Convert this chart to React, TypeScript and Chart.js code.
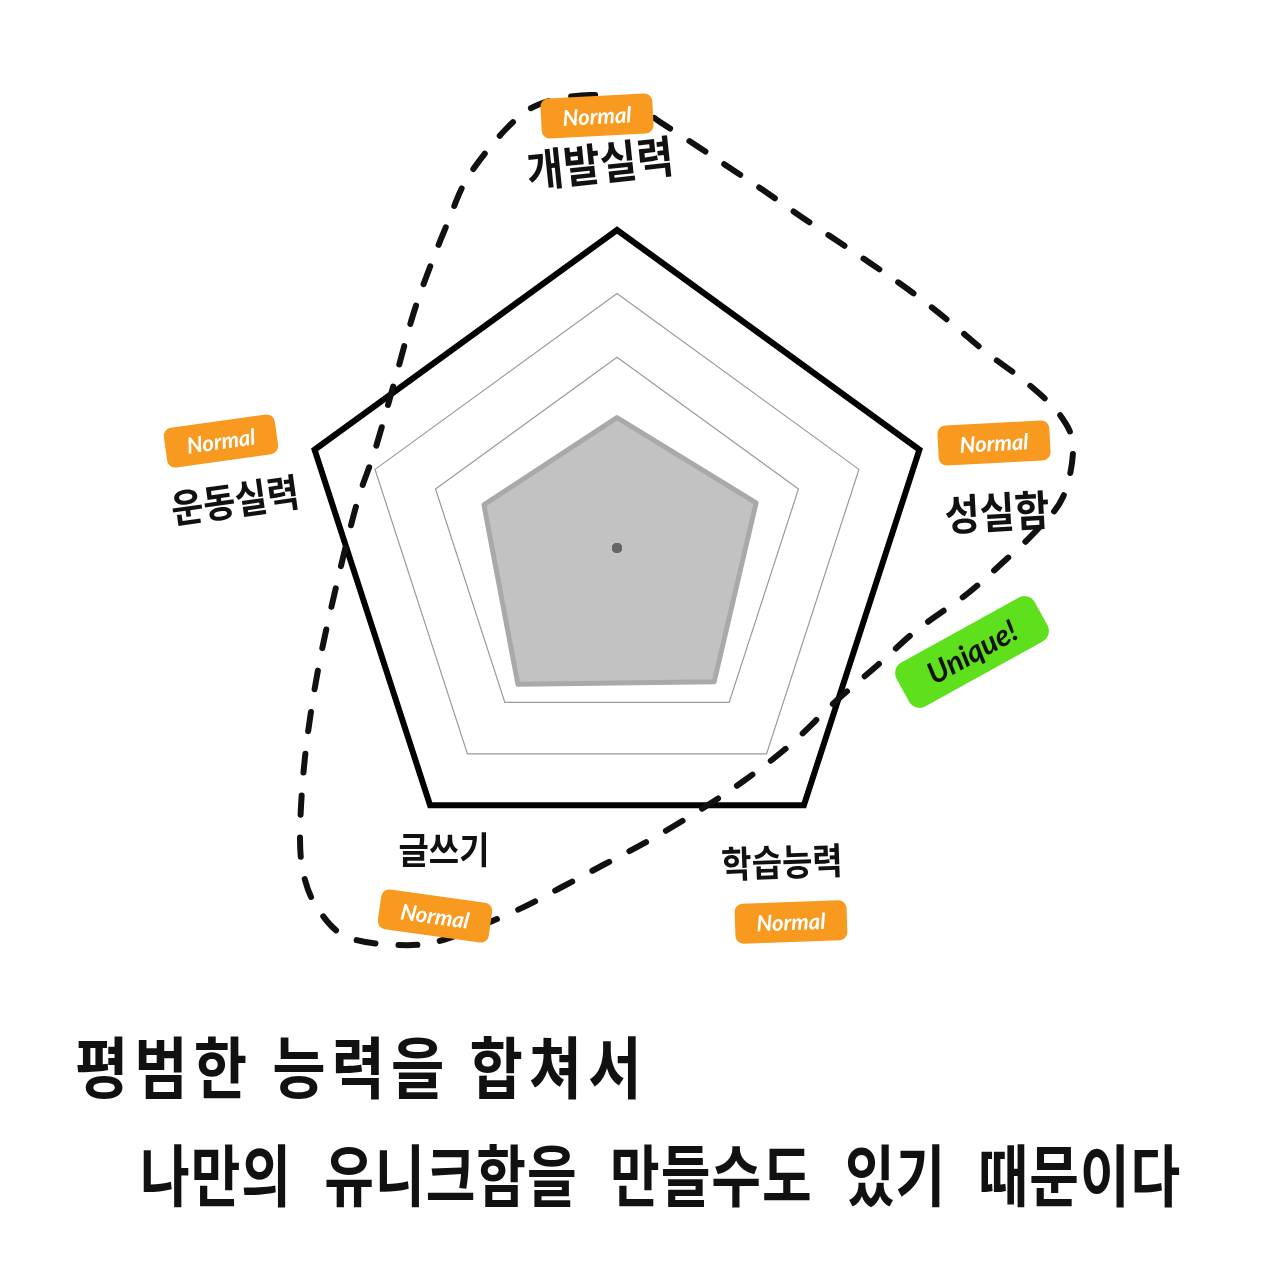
import { useEffect, useRef } from "react";
import { Chart, registerables } from "chart.js";

Chart.register(...registerables);

// ---- data ----
const categories = ["개발실력", "성실함", "학습능력", "글쓰기", "운동실력"];
const scores = [2.05, 2.3, 2.6, 2.65, 2.2];
const centerValues = [0, 0, 0, 0, 0];
const scaleMin = 0;
const scaleMax = 5;
const scaleStep = 1;
const badgeTexts = ["Normal", "Normal", "Normal", "Normal", "Normal"];
const uniqueText = "Unique!";
const captionLines = ["평범한 능력을 합쳐서", "나만의 유니크함을 만들수도 있기 때문이다"];

// ---- design frame (decoration layout, mapped onto the radial scale) ----
const REF = { cx: 617, cy: 548, r: 318 };
const LABEL_LAYOUT = [
  { x: 600, y: 163, size: 40, rot: -6 },
  { x: 997, y: 512, size: 38, rot: -3 },
  { x: 782, y: 862, size: 33, rot: -2 },
  { x: 444, y: 850, size: 33, rot: 0 },
  { x: 235, y: 500, size: 35, rot: -8 },
];
const BADGE_LAYOUT = [
  { x: 597, y: 116, w: 112, h: 40, rot: -3 },
  { x: 994, y: 443, w: 112, h: 40, rot: -3 },
  { x: 791, y: 922, w: 112, h: 40, rot: -2 },
  { x: 435, y: 916, w: 112, h: 40, rot: 8 },
  { x: 221, y: 441, w: 112, h: 40, rot: -8 },
];
const UNIQUE_LAYOUT = { x: 972, y: 652, w: 158, h: 50, rot: -29 };
const LOOP: [number, number][] = [
  [590, 95], [540, 104], [507, 128], [468, 177], [448, 222], [430, 267], [413, 315],
  [395, 380], [375, 450], [357, 503], [337, 583], [318, 670], [305, 757], [300, 837],
  [305, 880], [320, 912], [347, 937], [397, 945], [443, 940], [513, 912], [560, 888],
  [605, 864], [650, 840], [700, 810], [745, 780], [790, 745], [835, 702], [880, 663],
  [917, 630], [967, 594], [1000, 565], [1035, 532], [1063, 497], [1073, 447], [1060, 415],
  [1027, 383], [987, 353], [950, 322], [913, 293], [870, 263], [803, 218], [763, 190],
  [730, 168], [700, 148], [660, 122], [630, 102],
];

const KR = "'Noto Sans CJK KR', 'Noto Sans', sans-serif";

function mapPt(scale: any, x: number, y: number): [number, number] {
  const k = scale.drawingArea / REF.r;
  return [scale.xCenter + (x - REF.cx) * k, scale.yCenter + (y - REF.cy) * k];
}

const decorPlugin = {
  id: "decor",
  afterDraw(chart: any) {
    const ctx: CanvasRenderingContext2D = chart.ctx;
    const scale = chart.scales.r;

    // dashed loop
    const pts = LOOP.map(([x, y]) => mapPt(scale, x, y));
    ctx.save();
    ctx.strokeStyle = "#111";
    ctx.lineWidth = 6;
    ctx.lineCap = "round";
    ctx.setLineDash([19, 23]);
    ctx.beginPath();
    const n = pts.length;
    ctx.moveTo(pts[0][0], pts[0][1]);
    for (let i = 0; i < n; i++) {
      const p0 = pts[(i - 1 + n) % n];
      const p1 = pts[i];
      const p2 = pts[(i + 1) % n];
      const p3 = pts[(i + 2) % n];
      ctx.bezierCurveTo(
        p1[0] + (p2[0] - p0[0]) / 6,
        p1[1] + (p2[1] - p0[1]) / 6,
        p2[0] - (p3[0] - p1[0]) / 6,
        p2[1] - (p3[1] - p1[1]) / 6,
        p2[0],
        p2[1]
      );
    }
    ctx.closePath();
    ctx.stroke();
    ctx.restore();

    // category labels
    categories.forEach((label, i) => {
      const L = LABEL_LAYOUT[i];
      const [x, y] = mapPt(scale, L.x, L.y);
      ctx.save();
      ctx.translate(x, y);
      ctx.rotate((L.rot * Math.PI) / 180);
      ctx.scale(1, 1.12);
      ctx.fillStyle = "#111";
      ctx.font = `bold ${L.size}px ${KR}`;
      ctx.textAlign = "center";
      ctx.textBaseline = "middle";
      ctx.fillText(label, 0, 0);
      ctx.restore();
    });

    // Normal badges
    badgeTexts.forEach((t, i) => {
      const B = BADGE_LAYOUT[i];
      const [x, y] = mapPt(scale, B.x, B.y);
      ctx.save();
      ctx.translate(x, y);
      ctx.rotate((B.rot * Math.PI) / 180);
      ctx.fillStyle = "#f79a1f";
      ctx.beginPath();
      (ctx as any).roundRect(-B.w / 2, -B.h / 2, B.w, B.h, 8);
      ctx.fill();
      ctx.fillStyle = "#ffffff";
      ctx.font = "bold italic 22px Lato, 'Noto Sans', sans-serif";
      ctx.textAlign = "center";
      ctx.textBaseline = "middle";
      ctx.fillText(t, 0, 1);
      ctx.restore();
    });

    // Unique badge
    {
      const U = UNIQUE_LAYOUT;
      const [x, y] = mapPt(scale, U.x, U.y);
      ctx.save();
      ctx.translate(x, y);
      ctx.rotate((U.rot * Math.PI) / 180);
      ctx.fillStyle = "#5fe01c";
      ctx.beginPath();
      (ctx as any).roundRect(-U.w / 2, -U.h / 2, U.w, U.h, 12);
      ctx.fill();
      ctx.fillStyle = "#111";
      ctx.font = "bold italic 30px Lato, 'Noto Sans', sans-serif";
      ctx.textAlign = "center";
      ctx.textBaseline = "middle";
      ctx.fillText(uniqueText, 0, 1);
      ctx.restore();
    }

    // caption
    ctx.save();
    ctx.fillStyle = "#111";
    ctx.textAlign = "left";
    ctx.textBaseline = "middle";
    ctx.save();
    ctx.translate(75, 1068);
    ctx.scale(1, 1.15);
    ctx.font = `bold 58px ${KR}`;
    (ctx as any).letterSpacing = "6px";
    ctx.fillText(captionLines[0], 0, 0);
    ctx.restore();
    ctx.save();
    ctx.translate(140, 1175);
    ctx.scale(1, 1.25);
    ctx.font = `bold 54px ${KR}`;
    (ctx as any).letterSpacing = "1px";
    (ctx as any).wordSpacing = "19px";
    ctx.fillText(captionLines[1], 0, 0);
    ctx.restore();
    ctx.restore();
  },
};

export default function App() {
  const ref = useRef<HTMLCanvasElement | null>(null);

  useEffect(() => {
    if (!ref.current) return;
    const chart = new Chart(ref.current, {
      type: "radar",
      data: {
        labels: categories,
        datasets: [
          {
            data: scores,
            order: 1,
            backgroundColor: "#c2c2c2",
            borderColor: "#a9a9a9",
            borderWidth: 5,
            borderJoinStyle: "round",
            pointRadius: 0,
            fill: true,
          },
          {
            data: centerValues,
            order: 0,
            borderWidth: 0,
            borderColor: "rgba(0,0,0,0)",
            fill: false,
            pointRadius: 5,
            pointBorderWidth: 0,
            pointBackgroundColor: "#666666",
          },
        ],
      },
      options: {
        responsive: false,
        animation: false,
        layout: { padding: { left: 299, right: 345, top: 230, bottom: 414 } },
        plugins: { legend: { display: false }, tooltip: { enabled: false } },
        scales: {
          r: {
            min: scaleMin,
            max: scaleMax,
            ticks: { display: false, stepSize: scaleStep },
            pointLabels: { display: false },
            angleLines: { display: false },
            grid: {
              color: (c: any) => {
                const v = c.tick ? c.tick.value : 0;
                if (v >= scaleMax) return "#000000";
                if (v >= 3) return "#9a9a9a";
                return "rgba(0,0,0,0)";
              },
              lineWidth: (c: any) => {
                const v = c.tick ? c.tick.value : 0;
                return v >= scaleMax ? 6 : 1.2;
              },
            },
          },
        },
      },
      plugins: [decorPlugin],
    } as any);
    return () => chart.destroy();
  }, []);

  return (
    <div style={{ position: "fixed", left: 0, top: 0, width: 1280, height: 1280, background: "#ffffff" }}>
      <canvas ref={ref} width={1280} height={1280} style={{ width: 1280, height: 1280, display: "block" }} />
    </div>
  );
}
